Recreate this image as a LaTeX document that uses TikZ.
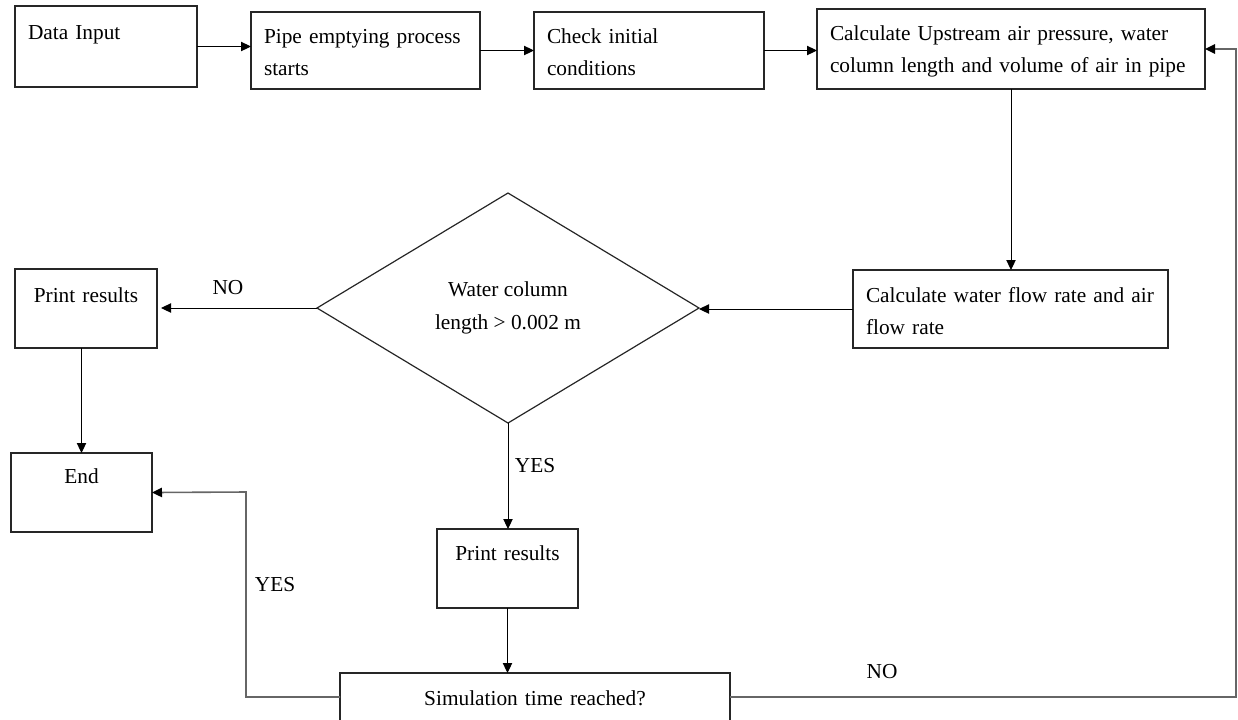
\documentclass[tikz,border=0pt]{standalone}
\usepackage{fontspec}
\setmainfont{Liberation Serif}
\usetikzlibrary{arrows.meta,shapes.geometric}

\begin{document}
\begin{tikzpicture}[x=0.75pt,y=-0.75pt,>={Triangle[length=7.5pt,width=7pt]},
    every node/.style={font=\fontsize{16}{24.5}\selectfont},
    flowbox/.style={draw=black!85,line width=0.9pt,rectangle,anchor=north west,
      inner xsep=9.75pt,inner ysep=0pt,outer sep=0pt,align=left},
    midbox/.style={flowbox,align=center},
    arr/.style={->,line width=0.75pt},
    loopline/.style={-{Triangle[length=7.5pt,width=7pt,color=black]},draw=black!60,line width=1.2pt},
    lbl/.style={inner sep=0pt}]
        \useasboundingbox (0,0) rectangle (1238,719);
        \clip (0,0) rectangle (1238,719);
        % top row
        \node[flowbox,text width=117pt,text height=24.75pt,text depth=36pt] (data) at (15,6) {Data Input};
        \node[flowbox,text width=152.25pt,text height=23.25pt,text depth=34.5pt] (pipe) at (251,12) {Pipe emptying process\\starts};
        \node[flowbox,text width=153pt,text height=23.25pt,text depth=34.5pt] (check) at (534,12) {Check initial\\conditions};
        \node[flowbox,text width=271.5pt,text height=23.25pt,text depth=36.75pt] (calcup) at (817,9) {Calculate Upstream air pressure, water\\column length and volume of air in pipe};
        % middle row
        \node[flowbox,text width=216.75pt,text height=24pt,text depth=34.5pt] (calcwater) at (853,270) {Calculate water flow rate and air\\flow rate};
        \node[draw=black!85,line width=0.9pt,diamond,minimum width=286.5pt,minimum height=172.5pt,
          inner sep=0pt,outer sep=0pt,align=center] (dec) at (508,308) {Water column\\length > 0.002 m};
        \node[midbox,text width=87pt,text height=24.75pt,text depth=34.5pt] (printL) at (15,269) {Print results};
        \node[midbox,text width=86.25pt,text height=22.5pt,text depth=36.75pt] (end) at (11,453) {End};
        % bottom row
        \node[midbox,text width=86.25pt,text height=23.25pt,text depth=36pt] (printM) at (437,529) {Print results};
        \node[midbox,text width=273pt,text height=24pt,text depth=12pt] (sim) at (340,673) {Simulation time reached?};
        % labels
        \node[lbl] (nodec) at (228,288) {NO};
        \node[lbl] (yesdec) at (535,466) {YES};
        \node[lbl] (yessim) at (275,585) {YES};
        \node[lbl] (nosim) at (882,672) {NO};
        % connectors
        \draw[arr] (data.east) -- (data.east -| pipe.west);
        \draw[arr] (pipe) -- (check);
        \draw[arr] (check.east) -- (check.east -| calcup.west);
        \draw[arr] (calcup.south) -- (calcup.south |- calcwater.north);
        \draw[arr] (calcwater.west) -- (dec.east |- calcwater.west);
        \draw[arr,shorten >=3pt] (dec.west) -- (dec.west -| printL.east);
        \draw[arr] (end.north |- printL.south) -- (end.north);
        \draw[arr] (dec.south) -- (dec.south |- printM.north);
        \draw[arr] (printM.south) -- (printM.south |- sim.north);
        \coordinate (yesbend) at (246,492);
        \draw[loopline] (sim.west) -| (yesbend) -- (end.east);
        \coordinate (nobend) at (1236,49);
        \draw[loopline] (sim.east) -| (nobend) -- (calcup.east);
\end{tikzpicture}
\end{document}
